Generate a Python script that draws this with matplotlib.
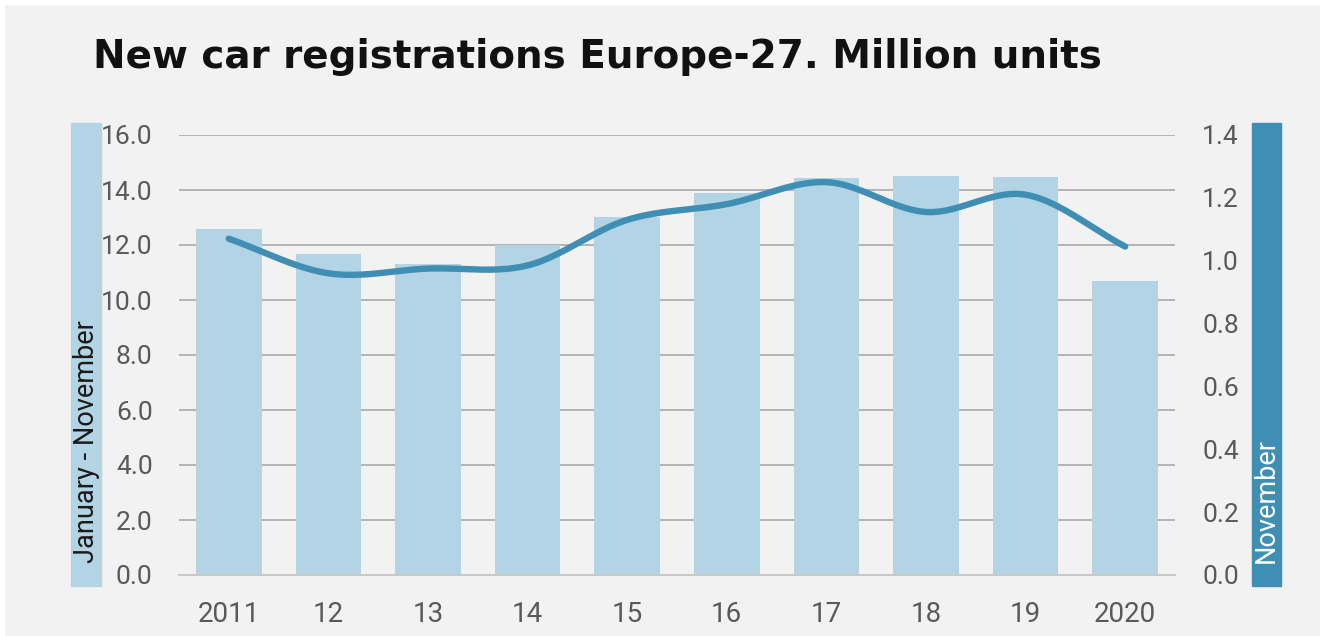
import numpy as np
import matplotlib
matplotlib.use("Agg")
import matplotlib.pyplot as plt
from matplotlib.patches import Rectangle

years = ["2011", "12", "13", "14", "15", "16", "17", "18", "19", "2020"]
jan_nov = [12.58, 11.67, 11.31, 12.0, 13.02, 13.89, 14.44, 14.51, 14.47, 10.69]
november = [1.07, 0.96, 0.975, 0.985, 1.13, 1.18, 1.25, 1.155, 1.21, 1.045]
left_ticks = [0, 2, 4, 6, 8, 10, 12, 14, 16]
right_ticks = [0, 0.2, 0.4, 0.6, 0.8, 1.0, 1.2, 1.4]

BG = "#f2f2f2"
BAR = "#b3d4e5"
LINE = "#3f8fb5"
TXT = "#595959"

W, H = 1320, 636
fig = plt.figure(figsize=(W / 100, H / 100), dpi=100, facecolor=BG)

# white border top/left
fig.patches.append(Rectangle((0, 1 - 4 / H), 1, 4 / H, transform=fig.transFigure, color="white", zorder=-1))
fig.patches.append(Rectangle((0, 0), 4 / W, 1, transform=fig.transFigure, color="white", zorder=-1))

ax_l, ax_r, ax_t, ax_b = 179, 1175, 135, 575
ax = fig.add_axes([ax_l / W, 1 - ax_b / H, (ax_r - ax_l) / W, (ax_b - ax_t) / H])
ax.set_facecolor("none")
x = np.arange(len(years))
ax.bar(x, jan_nov, width=0.66, color=BAR, zorder=2)
ax.set_xlim(-0.5, 9.5)
ax.set_ylim(0, 16)
ax.set_yticks(left_ticks)
ax.set_yticklabels([f"{v:.1f}" for v in left_ticks])
ax.set_xticks(x)
ax.set_xticklabels(years)
ax.grid(axis="y", color="#b4b4b4", lw=1.4, zorder=0)
ax.set_axisbelow(True)
for s in ["top", "right", "left"]:
    ax.spines[s].set_visible(False)
ax.spines["bottom"].set_color("#c8c8c8")
ax.spines["bottom"].set_linewidth(1.4)
ax.tick_params(axis="y", length=0, pad=19, labelsize=19, labelcolor=TXT)
ax.tick_params(axis="x", length=0, pad=19, labelsize=20, labelcolor=TXT)
for lab in ax.get_xticklabels() + ax.get_yticklabels():
    lab.set_fontfamily("Roboto")

ax2 = ax.twinx()
ax2.set_ylim(0, 1.4)
ax2.set_yticks(right_ticks)
ax2.set_yticklabels([f"{v:.1f}" for v in right_ticks])
for s in ax2.spines.values():
    s.set_visible(False)
ax2.tick_params(axis="y", length=0, pad=19.5, labelsize=19, labelcolor=TXT)
for lab in ax2.get_yticklabels():
    lab.set_fontfamily("Roboto")

# Smooth line (Catmull-Rom through the data points)
def catmull_rom(xs, ys, n=40):
    xs = np.asarray(xs, float)
    ys = np.asarray(ys, float)
    px = np.concatenate([[2 * xs[0] - xs[1]], xs, [2 * xs[-1] - xs[-2]]])
    py = np.concatenate([[2 * ys[0] - ys[1]], ys, [2 * ys[-1] - ys[-2]]])
    ox, oy = [], []
    for i in range(1, len(px) - 2):
        t = np.linspace(0, 1, n, endpoint=False)
        for arr, out in ((px, ox), (py, oy)):
            p0, p1, p2, p3 = arr[i - 1], arr[i], arr[i + 1], arr[i + 2]
            out.extend(0.5 * ((2 * p1) + (-p0 + p2) * t + (2 * p0 - 5 * p1 + 4 * p2 - p3) * t ** 2
                              + (-p0 + 3 * p1 - 3 * p2 + p3) * t ** 3))
    ox.append(xs[-1]); oy.append(ys[-1])
    return np.array(ox), np.array(oy)

sx, sy = catmull_rom(x, november)
ax2.plot(sx, sy, color=LINE, lw=4.6, solid_capstyle="round", zorder=5)

# side bands
band_t, band_b = 123, 586
fig.patches.append(Rectangle((71 / W, 1 - band_b / H), 30 / W, (band_b - band_t) / H,
                             transform=fig.transFigure, color=BAR, zorder=-1))
fig.patches.append(Rectangle((1252 / W, 1 - band_b / H), 29 / W, (band_b - band_t) / H,
                             transform=fig.transFigure, color=LINE, zorder=-1))
fig.text(86 / W, 1 - 563 / H, "January - November", rotation=90, ha="center", va="bottom",
         fontsize=19.5, color="#1a1a1a", family="Roboto")
fig.text(1266.5 / W, 1 - 563 / H, "November", rotation=90, ha="center", va="bottom",
         fontsize=19.5, color="white", family="Roboto")

fig.text(93 / W, 1 - 67.5 / H, "New car registrations Europe-27. Million units", ha="left",
         va="baseline", fontsize=28, fontweight="bold", family="DejaVu Sans", color="#111111")

fig.savefig("out.png", dpi=100, facecolor=BG)
